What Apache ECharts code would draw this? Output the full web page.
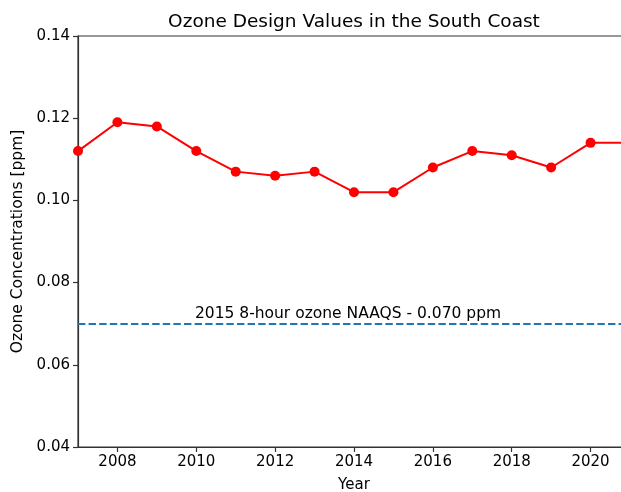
<!DOCTYPE html>
<html>
<head>
<meta charset="utf-8">
<script src="https://cdn.jsdelivr.net/npm/echarts@6/dist/echarts.min.js"></script>
<style>html,body{margin:0;padding:0;background:#fff;overflow:hidden;}#c{width:621px;height:492px;}</style>
</head>
<body>
<div id="c"></div>
<script>
var years = [2007, 2008, 2009, 2010, 2011, 2012, 2013, 2014, 2015, 2016, 2017, 2018, 2019, 2020, 2021];
var ozone = [0.112, 0.119, 0.118, 0.112, 0.107, 0.106, 0.107, 0.102, 0.102, 0.108, 0.112, 0.111, 0.108, 0.114, 0.114];
var xTicks = [2008, 2010, 2012, 2014, 2016, 2018, 2020];
var yTicks = [0.04, 0.06, 0.08, 0.10, 0.12, 0.14];
var naaqs = 0.070;
var naaqsLabel = '2015 8-hour ozone NAAQS - 0.070 ppm';

var font = 'DejaVu Sans';
var chart = echarts.init(document.getElementById('c'), null, {renderer: 'canvas'});
chart.setOption({
  animation: false,
  backgroundColor: '#fff',
  textStyle: {fontFamily: font},
  title: {
    text: 'Ozone Design Values in the South Coast',
    left: 349, top: 8, textAlign: 'center',
    textStyle: {fontFamily: font, fontSize: 18.5, fontWeight: 'normal', color: '#000'}
  },
  grid: {left: 78, right: -9, top: 36, bottom: 45, outerBoundsMode: 'none', containLabel: false,
         show: true, borderColor: '#333', borderWidth: 1.2, backgroundColor: 'transparent'},
  xAxis: {
    type: 'value', min: 2007, max: 2021,
    name: 'Year', nameLocation: 'middle', nameGap: 31,
    nameTextStyle: {fontFamily: font, fontSize: 15, color: '#000'},
    axisLine: {show: true, onZero: false, lineStyle: {color: '#333', width: 1.2}},
    axisTick: {show: true, inside: false, length: 5, lineStyle: {color: '#333', width: 1.2}, customValues: xTicks},
    axisLabel: {fontFamily: font, fontSize: 15, color: '#000', margin: 8, customValues: xTicks, formatter: function (v) { return String(v); }},
    splitLine: {show: false}
  },
  yAxis: {
    type: 'value', min: 0.04, max: 0.14, interval: 0.02,
    name: 'Ozone Concentrations [ppm]', nameLocation: 'middle', nameGap: 51, nameRotate: 90,
    nameTextStyle: {fontFamily: font, fontSize: 15.5, color: '#000'},
    axisLine: {show: true, onZero: false, lineStyle: {color: '#333', width: 1.2}},
    axisTick: {show: true, inside: false, length: 5, lineStyle: {color: '#333', width: 1.2}},
    axisLabel: {fontFamily: font, fontSize: 15, color: '#000', margin: 8, formatter: function (v) { return v.toFixed(2); }},
    splitLine: {show: false}
  },
  series: [{
    type: 'line',
    data: years.map(function (y, i) { return [y, ozone[i]]; }),
    clip: true,
    symbol: 'circle', symbolSize: 10,
    itemStyle: {color: '#ff0000'},
    lineStyle: {color: '#ff0000', width: 2},
    markLine: {
      silent: true, symbol: 'none',
      lineStyle: {color: '#1f77b4', width: 2, type: [7.4, 3.2]},
      label: {show: true, position: 'middle', formatter: naaqsLabel, fontFamily: font, fontSize: 15.5, color: '#000', distance: 2, offset: [-6, 0]},
      data: [{yAxis: naaqs}]
    }
  }]
});
</script>
</body>
</html>
